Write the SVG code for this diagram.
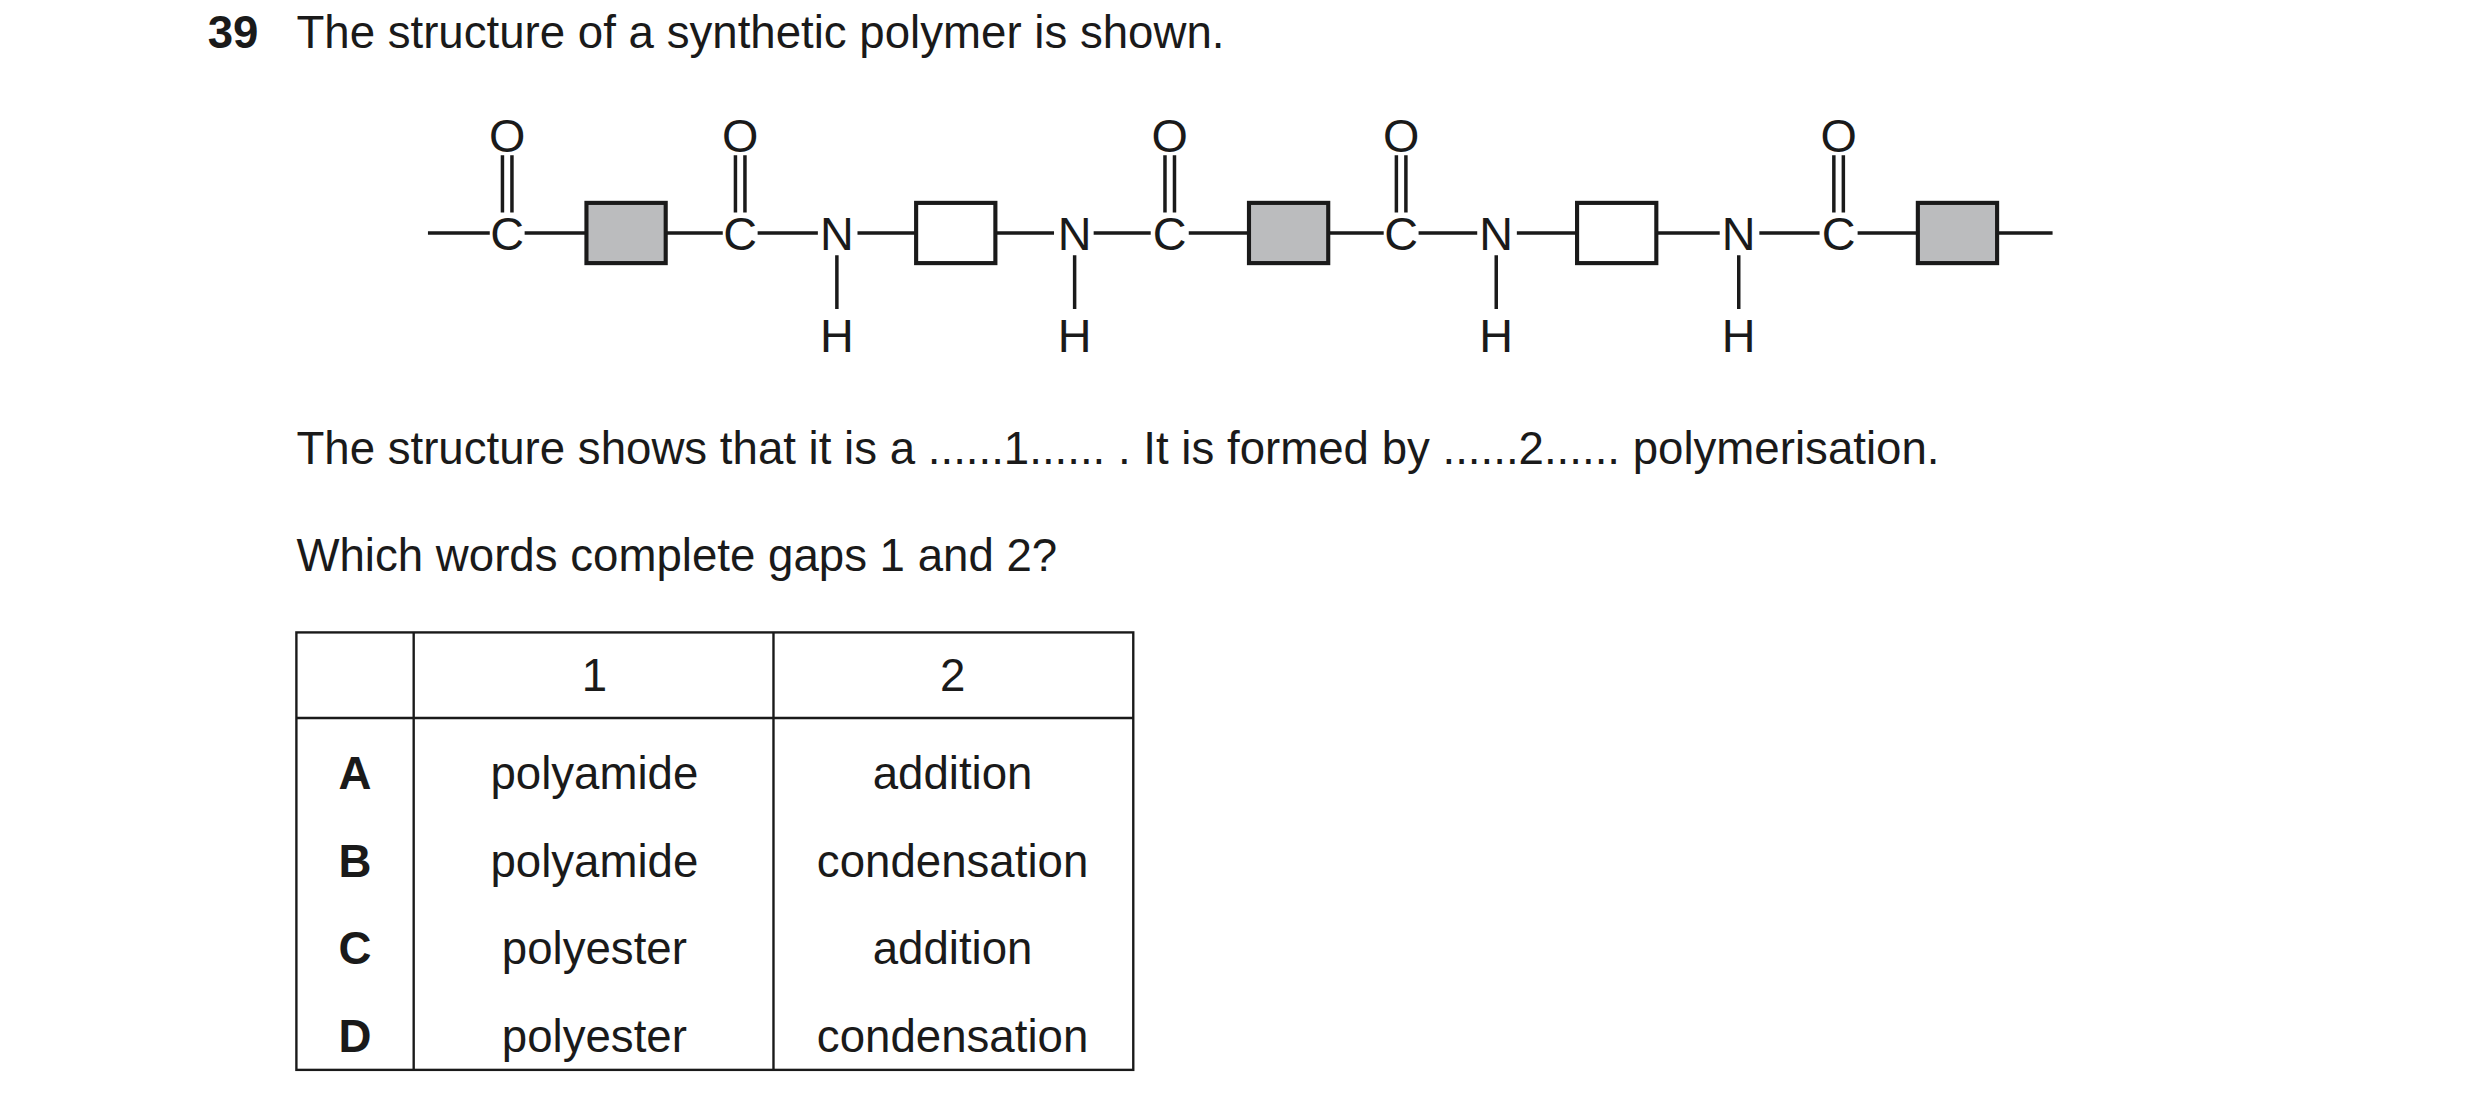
<svg xmlns="http://www.w3.org/2000/svg" width="2480" height="1109" viewBox="0 0 2480 1109">
<style>
text{font-family:"Liberation Sans",Arial,sans-serif;fill:#1a1a1a}
.t{font-size:28.8px}
.a{font-size:29.5px;text-anchor:middle}
.b{font-size:28.8px;font-weight:bold}
.c{font-size:28.8px;text-anchor:middle}
.bond{stroke:#1a1a1a;stroke-width:2.2;fill:none}
.box{stroke:#1a1a1a;stroke-width:2.6}
</style>
<rect width="2480" height="1109" fill="#fff"/>
<g transform="scale(1.585)">
<g id="title"><text class="b" x="131" y="30">39</text><text class="t" x="187" y="30">The structure of a synthetic polymer is shown.</text></g>
<g id="connectors" class="bond">
<path d="M270 147H309M331 147H370M420 147H456M478 147H516M541 147H578M628 147H665M690 147H726M750 147H788M838 147H873M895 147H932M957 147H995M1045 147H1085M1110 147H1148M1172 147H1210M1260 147H1295"/>
<path d="M317 98V134M323 98V134M464 98V134M470 98V134M735 98V134M741 98V134M881 98V134M887 98V134M1157 98V134M1163 98V134"/>
<path d="M528 161V195M678 161V195M944 161V195M1097 161V195"/>
</g>
<g id="atoms">
<text class="a" x="320" y="96">O</text><text class="a" x="320" y="158">C</text>
<text class="a" x="467" y="96">O</text><text class="a" x="467" y="158">C</text>
<text class="a" x="528" y="158">N</text><text class="a" x="528" y="222">H</text>
<text class="a" x="678" y="158">N</text><text class="a" x="678" y="222">H</text>
<text class="a" x="738" y="96">O</text><text class="a" x="738" y="158">C</text>
<text class="a" x="884" y="96">O</text><text class="a" x="884" y="158">C</text>
<text class="a" x="944" y="158">N</text><text class="a" x="944" y="222">H</text>
<text class="a" x="1097" y="158">N</text><text class="a" x="1097" y="222">H</text>
<text class="a" x="1160" y="96">O</text><text class="a" x="1160" y="158">C</text>
</g>
<g id="boxes">
<rect class="box" x="370" y="128" width="50" height="38" fill="#bbbcbe"/>
<rect class="box" x="578" y="128" width="50" height="38" fill="#fff"/>
<rect class="box" x="788" y="128" width="50" height="38" fill="#bbbcbe"/>
<rect class="box" x="995" y="128" width="50" height="38" fill="#fff"/>
<rect class="box" x="1210" y="128" width="50" height="38" fill="#bbbcbe"/>
</g>
<g id="text">
<text class="t" x="187" y="293">The structure shows that it is a ......1...... . It is formed by ......2...... polymerisation.</text>
<text class="t" x="187" y="360">Which words complete gaps 1 and 2?</text>
</g>
<g id="table">
<rect x="187" y="399" width="528" height="276" fill="none" stroke="#1a1a1a" stroke-width="1.5"/>
<path d="M261 399V675M488 399V675M187 453H715" stroke="#1a1a1a" stroke-width="1.5"/>
<text class="c" x="375" y="436">1</text><text class="c" x="601" y="436">2</text>
<text class="b" x="224" y="498" text-anchor="middle">A</text><text class="c" x="375" y="498">polyamide</text><text class="c" x="601" y="498">addition</text>
<text class="b" x="224" y="553" text-anchor="middle">B</text><text class="c" x="375" y="553">polyamide</text><text class="c" x="601" y="553">condensation</text>
<text class="b" x="224" y="608" text-anchor="middle">C</text><text class="c" x="375" y="608">polyester</text><text class="c" x="601" y="608">addition</text>
<text class="b" x="224" y="664" text-anchor="middle">D</text><text class="c" x="375" y="664">polyester</text><text class="c" x="601" y="664">condensation</text>
</g>
</g>
</svg>
